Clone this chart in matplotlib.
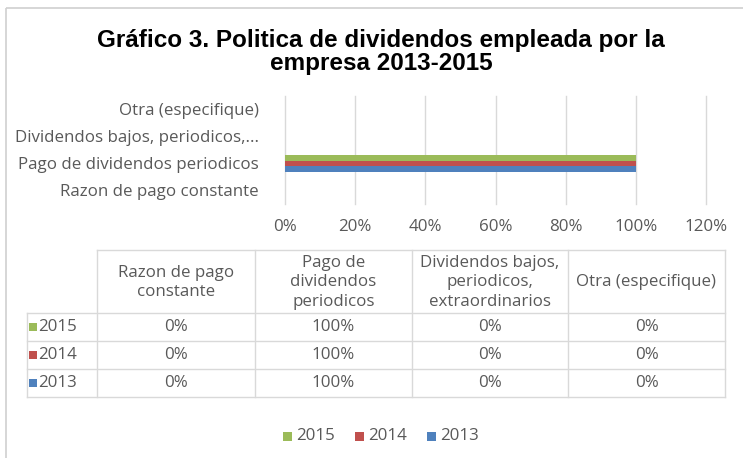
import numpy as np
import matplotlib.pyplot as plt
from matplotlib.patches import Rectangle

# Data
categories = ["Razon de pago constante", "Pago de dividendos periodicos",
              "Dividendos bajos, periodicos, extraordinarios", "Otra (especifique)"]
axis_labels = ["Razon de pago constante", "Pago de dividendos periodicos",
               "Dividendos bajos, periodicos,...", "Otra (especifique)"]
header_labels = ["Razon de pago\nconstante", "Pago de\ndividendos\nperiodicos",
                 "Dividendos bajos,\nperiodicos,\nextraordinarios", "Otra (especifique)"]
years = ["2013", "2014", "2015"]
values = {
    "2013": [0.0, 1.0, 0.0, 0.0],
    "2014": [0.0, 1.0, 0.0, 0.0],
    "2015": [0.0, 1.0, 0.0, 0.0],
}
colors = {"2013": "#4F81BD", "2014": "#C0504D", "2015": "#9BBB59"}
xticks = [0, 0.2, 0.4, 0.6, 0.8, 1.0, 1.2]

W, H = 743, 458
txt = "#595959"
grid = "#d9d9d9"
font = "Open Sans"
fs = 12.2

fig = plt.figure(figsize=(W / 100, H / 100), dpi=100)

# overlay axes in pixel coords for frame, table and legend
ov = fig.add_axes([0, 0, 1, 1])
ov.set_xlim(0, W)
ov.set_ylim(H, 0)
ov.axis("off")
ov.add_patch(Rectangle((6, 8), 800, 500, fill=False, edgecolor="#d0d0d0", lw=1.2))

ov.text(381, 52, "Gráfico 3. Politica de dividendos empleada por la\nempresa 2013-2015",
        ha="center", va="center", fontsize=17.5, fontweight="bold",
        family="Liberation Sans", linespacing=1.0, color="black")

# bar chart
x0, x1, y0, y1 = 285, 706, 96, 204
ax = fig.add_axes([x0 / W, 1 - y1 / H, (x1 - x0) / W, (y1 - y0) / H])
pos = np.arange(len(categories))
h = 0.2
for i, yr in enumerate(years):
    ax.barh(pos + (i - 1) * h, values[yr], height=h, color=colors[yr], zorder=3)
ax.set_xlim(0, 1.2)
ax.set_ylim(-0.5, len(categories) - 0.5)
ax.set_xticks(xticks)
ax.set_xticklabels([f"{int(round(t * 100))}%" for t in xticks])
ax.set_yticks(pos)
ax.set_yticklabels(axis_labels)
ax.grid(axis="x", color=grid, lw=1, zorder=0)
for gl in ax.get_xgridlines():
    gl.set_clip_on(False)
for s in ax.spines.values():
    s.set_visible(False)
ax.tick_params(length=0, labelsize=fs, labelcolor=txt)
ax.tick_params(axis="x", pad=11)
ax.tick_params(axis="y", pad=19)
for lab in ax.get_xticklabels() + ax.get_yticklabels():
    lab.set_family(font)
ax.set_facecolor("none")

# data table
col_x = [97, 255, 412, 568, 725]
row_y = [250, 313, 341, 369, 397]
left = 27
lw = 1
ov.plot([col_x[0], col_x[-1]], [row_y[0], row_y[0]], color=grid, lw=lw)
for yy in row_y[1:]:
    ov.plot([left, col_x[-1]], [yy, yy], color=grid, lw=lw)
ov.plot([left, left], [row_y[1], row_y[-1]], color=grid, lw=lw)
for xx in col_x:
    ov.plot([xx, xx], [row_y[0], row_y[-1]], color=grid, lw=lw)

for j, lab in enumerate(header_labels):
    ov.text((col_x[j] + col_x[j + 1]) / 2, (row_y[0] + row_y[1]) / 2 + 1, lab,
            ha="center", va="center", fontsize=fs, color=txt, family=font,
            linespacing=1.3)

for r, yr in enumerate(years[::-1]):
    yc = (row_y[r + 1] + row_y[r + 2]) / 2
    ov.add_patch(Rectangle((29, yc - 4), 8, 8, color=colors[yr], lw=0))
    ov.text(38, yc, yr, ha="left", va="center", fontsize=fs, color=txt, family=font)
    for j, v in enumerate(values[yr]):
        ov.text((col_x[j] + col_x[j + 1]) / 2, yc, f"{int(round(v * 100))}%",
                ha="center", va="center", fontsize=fs, color=txt, family=font)

# legend
lx = 283
for yr in years[::-1]:
    ov.add_patch(Rectangle((lx, 432), 9, 9, color=colors[yr], lw=0))
    ov.text(lx + 13, 436, yr, ha="left", va="center", fontsize=fs, color=txt, family=font)
    lx += 72

fig.savefig("out.png", dpi=100)
